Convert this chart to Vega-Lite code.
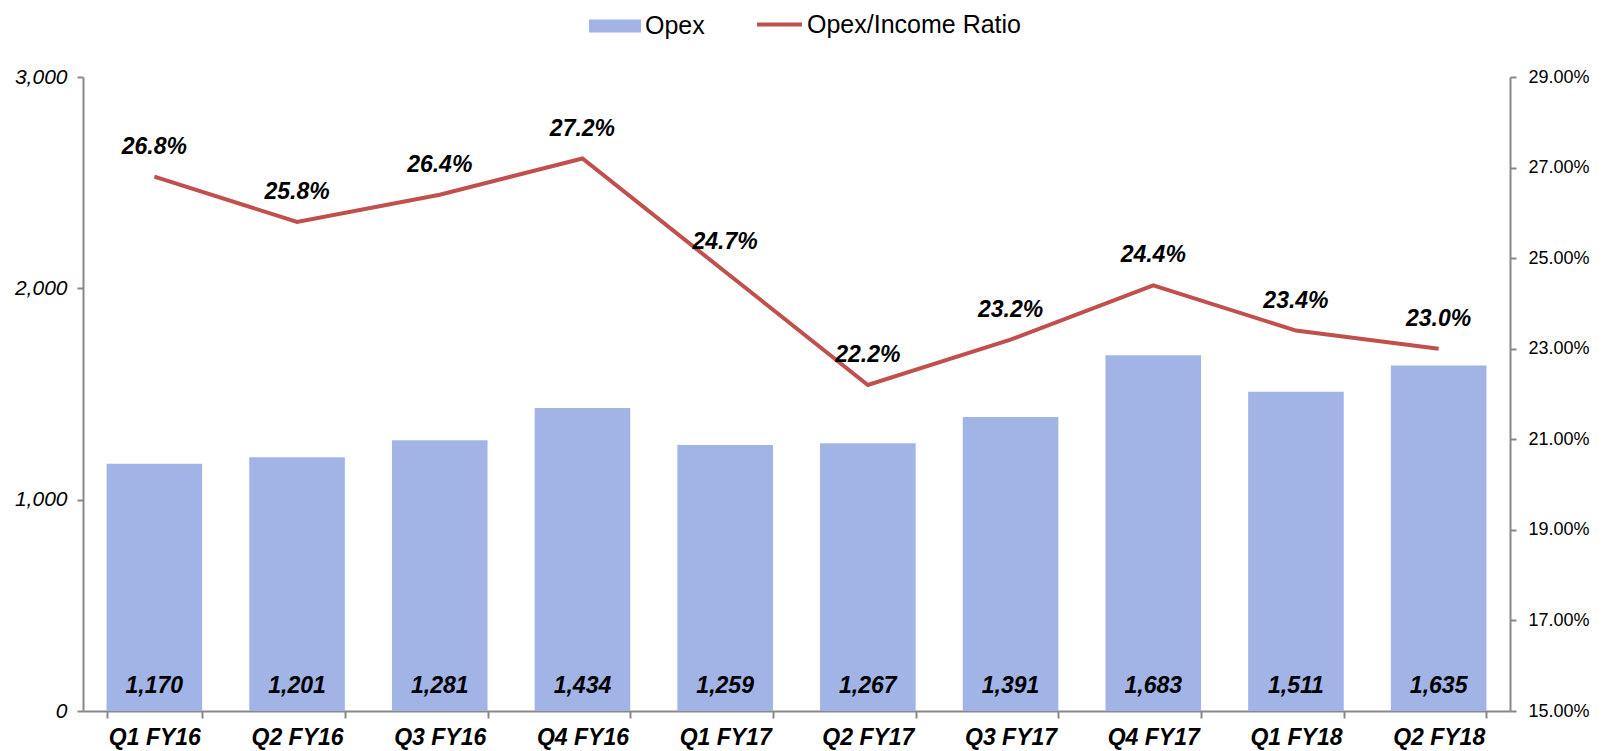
{
  "$schema": "https://vega.github.io/schema/vega-lite/v6.json",
  "autosize": "none",
  "width": 1427,
  "height": 634,
  "padding": {"left": 83, "top": 77, "right": 94, "bottom": 40},
  "background": "white",
  "config": {
    "font": "Liberation Sans",
    "view": {"stroke": null},
    "axis": {"grid": false, "domainColor": "#888888", "tickColor": "#888888", "domainWidth": 2, "tickWidth": 2, "tickSize": 6, "labelColor": "black", "title": null},
    "legend": {"padding": 0, "labelFontSize": 25, "labelColor": "black", "labelFont": "Liberation Sans", "labelLimit": 400}
  },
  "data": {"values": [
    {"q": "Q1 FY16", "opex": 1170, "ratio": 0.268},
    {"q": "Q2 FY16", "opex": 1201, "ratio": 0.258},
    {"q": "Q3 FY16", "opex": 1281, "ratio": 0.264},
    {"q": "Q4 FY16", "opex": 1434, "ratio": 0.272},
    {"q": "Q1 FY17", "opex": 1259, "ratio": 0.247},
    {"q": "Q2 FY17", "opex": 1267, "ratio": 0.222},
    {"q": "Q3 FY17", "opex": 1391, "ratio": 0.232},
    {"q": "Q4 FY17", "opex": 1683, "ratio": 0.244},
    {"q": "Q1 FY18", "opex": 1511, "ratio": 0.234},
    {"q": "Q2 FY18", "opex": 1635, "ratio": 0.230}
  ]},
  "encoding": {
    "x": {"field": "q", "type": "ordinal", "sort": null,
      "scale": {"paddingInner": 0.33, "paddingOuter": 0.165},
      "axis": {"labelAngle": 0, "labelFontSize": 23, "labelFontWeight": "bold", "labelFontStyle": "italic", "labelPadding": 8, "tickBand": "extent", "tickSize": 7}}
  },
  "layer": [
    {
      "layer": [
        {
          "mark": {"type": "bar"},
          "encoding": {
            "y": {"field": "opex", "type": "quantitative", "scale": {"domain": [0, 3000]},
              "axis": {"values": [0, 1000, 2000, 3000], "format": ",.0f", "labelFontSize": 21, "labelFontStyle": "italic", "labelPadding": 10}},
            "fill": {"datum": "Opex", "type": "nominal", "scale": {"domain": ["Opex"], "range": ["#A2B4E6"]},
              "legend": {"orient": "none", "legendX": 506, "legendY": -64, "title": null, "symbolType": "M-1,-0.5H3V0.5H-1Z", "symbolSize": 676, "symbolStrokeWidth": 0, "labelOffset": 30}}
          }
        },
        {
          "mark": {"type": "text", "fontSize": 23, "fontWeight": "bold", "fontStyle": "italic", "baseline": "middle", "dy": -25, "color": "black"},
          "encoding": {
            "y": {"datum": 0, "type": "quantitative"},
            "text": {"field": "opex", "type": "quantitative", "format": ","}
          }
        }
      ]
    },
    {
      "layer": [
        {
          "mark": {"type": "line", "strokeWidth": 4},
          "encoding": {
            "y": {"field": "ratio", "type": "quantitative", "scale": {"domain": [0.15, 0.29]},
              "axis": {"orient": "right", "values": [0.15, 0.17, 0.19, 0.21, 0.23, 0.25, 0.27, 0.29], "format": ".2%", "labelFontSize": 18, "labelPadding": 12}},
            "stroke": {"datum": "Opex/Income Ratio", "type": "nominal", "scale": {"domain": ["Opex/Income Ratio"], "range": ["#C0504D"]},
              "legend": {"orient": "none", "legendX": 672, "legendY": -77, "title": null, "symbolType": "stroke", "symbolSize": 2025, "symbolStrokeWidth": 4, "labelOffset": 3}}
          }
        },
        {
          "mark": {"type": "text", "fontSize": 23, "fontWeight": "bold", "fontStyle": "italic", "baseline": "middle", "dy": -30, "color": "black"},
          "encoding": {
            "y": {"field": "ratio", "type": "quantitative"},
            "text": {"field": "ratio", "type": "quantitative", "format": ".1%"}
          }
        }
      ]
    }
  ],
  "resolve": {"scale": {"y": "independent", "fill": "independent", "stroke": "independent"}}
}
